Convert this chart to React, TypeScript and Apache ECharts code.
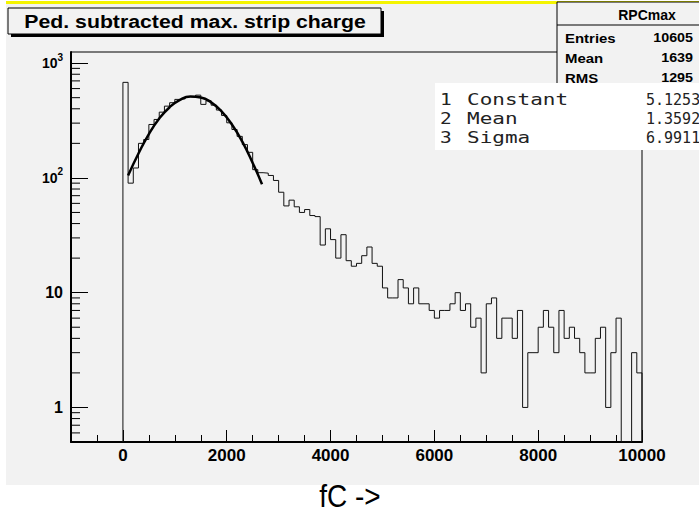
import React, { useEffect, useRef } from "react";
import * as echarts from "echarts";

// ---- data ----
const binWidth = 100; // fC per bin, bins from 0 to 10000
const counts = [
  680, 90, 122, 200, 216, 292, 323, 374, 422, 452,
  483, 488, 510, 505, 526, 437, 470, 430, 390, 350,
  302, 264, 230, 195, 167, 118, 111, 110, 105, 95,
  75, 57, 64, 56, 50, 53, 47, 46, 26, 36,
  29, 20, 32, 19, 17, 18, 21, 25, 18, 17,
  11, 9, 9, 13, 11, 8, 11, 8, 8, 7,
  6, 7, 7, 8, 10, 7, 8, 5, 6, 2,
  8, 9, 4, 6, 6, 4, 7, 1, 3, 3,
  5, 7, 5, 3, 7, 4, 5, 4, 3, 2,
  2, 4, 5, 1, 3, 6, 0, 0, 3, 2,
];
const fitX = [100, 300, 500, 700, 900, 1100, 1300, 1500, 1700, 1900, 2100, 2300, 2500, 2680];
const fitY = [105, 163, 241, 329, 413, 479, 511, 502, 455, 380, 292, 207, 135, 88];
const xMajorTicks = [0, 2000, 4000, 6000, 8000, 10000];
const xMinorTicks = [
  -500, 0, 500, 1000, 1500, 2000, 2500, 3000, 3500, 4000, 4500, 5000,
  5500, 6000, 6500, 7000, 7500, 8000, 8500, 9000, 9500,
];
const yMinorTicks = [
  0.6, 0.7, 0.8, 0.9, 2, 3, 4, 5, 6, 7, 8, 9,
  20, 30, 40, 50, 60, 70, 80, 90, 200, 300, 400, 500, 600, 700, 800, 900,
];
const statsNames = ["Entries", "Mean", "RMS"];
const statsValues = ["10605", "1639", "1295"];
const fitIndex = ["1", "2", "3"];
const fitNames = ["Constant", "Mean", "Sigma"];
const fitValues = ["5.1253", "1.3592", "6.9911"];

const X_MIN = -1000;
const X_MAX = 10000;
const Y_MIN = 0.5;
const Y_MAX = 1250;
const FONT = "Liberation Sans, Arial, sans-serif";
const MONO = "DejaVu Sans Mono, monospace";

function buildHistPoints(): number[][] {
  const pts: number[][] = [[0, Y_MIN]];
  counts.forEach((c, i) => {
    const v = c > 0 ? c : Y_MIN;
    pts.push([i * binWidth, v], [(i + 1) * binWidth, v]);
  });
  pts.push([counts.length * binWidth, Y_MIN]);
  return pts;
}

export default function App() {
  const ref = useRef<HTMLDivElement>(null);
  useEffect(() => {
    if (!ref.current) return;
    const chart = echarts.init(ref.current, undefined, { renderer: "svg" });
    const histPts = buildHistPoints();
    const fitPts = fitX.map((x, i) => [x, fitY[i]]);

    const graphics: any[] = [
      { type: "rect", z: -100, shape: { x: 6, y: 4, width: 693, height: 481 }, style: { fill: "#f2f2f2" } },
      { type: "rect", z: 60, shape: { x: 6, y: 1, width: 693, height: 3 }, style: { fill: "#f4f400" } },
      // title box with shadow
      { type: "rect", z: 60, shape: { x: 11, y: 11, width: 373, height: 26 }, style: { fill: "#000" } },
      { type: "rect", z: 61, shape: { x: 8, y: 8, width: 373, height: 26 }, style: { fill: "#f2f2f2", stroke: "#000", lineWidth: 1 } },
      {
        type: "text", z: 62, x: 195, y: 21, scaleX: 1.12,
        style: { text: "Ped. subtracted max. strip charge", fill: "#000", font: `bold 19px ${FONT}`, textAlign: "center", textVerticalAlign: "middle" },
      },
      // stats box
      { type: "rect", z: 60, shape: { x: 557, y: 2, width: 160, height: 90 }, style: { fill: "#f2f2f2", stroke: "#000", lineWidth: 1 } },
      { type: "line", z: 61, shape: { x1: 557, y1: 25, x2: 699, y2: 25 }, style: { stroke: "#000", lineWidth: 1 } },
      {
        type: "text", z: 62, x: 647, y: 15,
        style: { text: "RPCmax", fill: "#000", font: `bold 14px ${FONT}`, textAlign: "center", textVerticalAlign: "middle" },
      },
      // fit box
      { type: "rect", z: 70, shape: { x: 435, y: 83, width: 270, height: 67 }, style: { fill: "#ffffff" } },
      {
        type: "text", z: 80, x: 350, y: 496, scaleY: 1.15,
        style: { text: "fC ->", fill: "#000", font: `28px ${FONT}`, textAlign: "center", textVerticalAlign: "middle" },
      },
    ];
    statsNames.forEach((n, i) => {
      const y = 38 + i * 20;
      graphics.push({
        type: "text", z: 62, x: 565, y, scaleX: 1.15,
        style: { text: n, fill: "#000", font: `bold 13px ${FONT}`, textAlign: "left", textVerticalAlign: "middle" },
      });
      graphics.push({
        type: "text", z: 62, x: 693, y, scaleX: 1.1,
        style: { text: statsValues[i], fill: "#000", font: `bold 13px ${FONT}`, textAlign: "right", textVerticalAlign: "middle" },
      });
    });
    fitNames.forEach((n, i) => {
      const y = 100 + i * 19;
      graphics.push({
        type: "text", z: 72, x: 440, y, scaleX: 1.3,
        style: { text: fitIndex[i], fill: "#222", font: `15px ${MONO}`, textAlign: "left", textVerticalAlign: "middle" },
      });
      graphics.push({
        type: "text", z: 72, x: 467, y, scaleX: 1.4,
        style: { text: n, fill: "#222", font: `15px ${MONO}`, textAlign: "left", textVerticalAlign: "middle" },
      });
      graphics.push({
        type: "text", z: 72, x: 646, y,
        style: { text: fitValues[i], fill: "#222", font: `15px ${MONO}`, textAlign: "left", textVerticalAlign: "middle" },
      });
    });

    const option: any = {
      animation: false,
      backgroundColor: "#ffffff",
      grid: {
        left: 71, top: 52, right: 57, bottom: 90,
        show: true, borderColor: "#000", borderWidth: 1, backgroundColor: "transparent",
        containLabel: false, outerBoundsMode: "none",
      },
      xAxis: [
        {
          type: "value", position: "bottom", min: X_MIN, max: X_MAX,
          axisLine: { show: true, onZero: false, lineStyle: { color: "#000", width: 2 } },
          axisTick: { show: true, inside: true, length: 12, customValues: xMajorTicks, lineStyle: { color: "#000", width: 1 } },
          axisLabel: {
            show: true, customValues: xMajorTicks, margin: 5, color: "#000", fontSize: 17, fontWeight: "bold", fontFamily: FONT,
            formatter: (v: number) => String(Math.round(v)),
          },
          splitLine: { show: false },
        },
        {
          type: "value", position: "bottom", min: X_MIN, max: X_MAX,
          axisLine: { show: false, onZero: false },
          axisTick: { show: true, inside: true, length: 7, customValues: xMinorTicks, lineStyle: { color: "#000", width: 1 } },
          axisLabel: { show: false },
          splitLine: { show: false },
        },
      ],
      yAxis: {
        type: "log", logBase: 10, min: Y_MIN, max: Y_MAX,
        axisLine: { show: true, onZero: false, lineStyle: { color: "#000", width: 2 } },
        axisTick: { show: true, inside: true, length: 17, lineStyle: { color: "#000", width: 1 } },
        splitLine: { show: false },
        axisLabel: {
          show: true, margin: 8, color: "#000", fontFamily: FONT,
          showMinLabel: false, showMaxLabel: false,
          formatter: (v: number) => {
            const r = Math.round(v);
            if (Math.abs(v - 1) < 1e-6) return "{n|1}";
            if (r === 10) return "{n|10}";
            if (r === 100) return "{b|10}{s|2}";
            if (r === 1000) return "{b|10}{s|3}";
            return "";
          },
          rich: {
            n: { fontSize: 16, fontWeight: "bold", fontFamily: FONT, color: "#000" },
            b: { fontSize: 14, fontWeight: "bold", fontFamily: FONT, color: "#000", lineHeight: 14 },
            s: { fontSize: 10, fontWeight: "bold", fontFamily: FONT, color: "#000", lineHeight: 10, padding: [0, 0, 12, 0] },
          },
        },
      },
      series: [
        {
          type: "line", xAxisIndex: 0, yAxisIndex: 0, data: histPts,
          showSymbol: false, symbol: "none", silent: true, z: 3,
          lineStyle: { color: "#111", width: 1 },
        },
        {
          type: "line", xAxisIndex: 0, yAxisIndex: 0, data: fitPts, smooth: true,
          showSymbol: false, symbol: "none", silent: true, z: 4,
          lineStyle: { color: "#000", width: 2.5 },
        },
        {
          type: "custom", xAxisIndex: 0, yAxisIndex: 0, silent: true, z: 5,
          data: yMinorTicks.map((v) => [X_MIN, v]),
          encode: { x: 0, y: 1 },
          renderItem: (_p: any, api: any) => {
            const pt = api.coord([api.value(0), api.value(1)]);
            return {
              type: "line",
              shape: { x1: pt[0], y1: pt[1], x2: pt[0] + 9, y2: pt[1] },
              style: { stroke: "#000", lineWidth: 1 },
            };
          },
        },
      ],
      graphic: graphics,
    };
    chart.setOption(option);
    return () => chart.dispose();
  }, []);
  return (
    <div
      ref={ref}
      style={{ position: "absolute", left: 0, top: 0, width: 699, height: 532, background: "#fff" }}
    />
  );
}
